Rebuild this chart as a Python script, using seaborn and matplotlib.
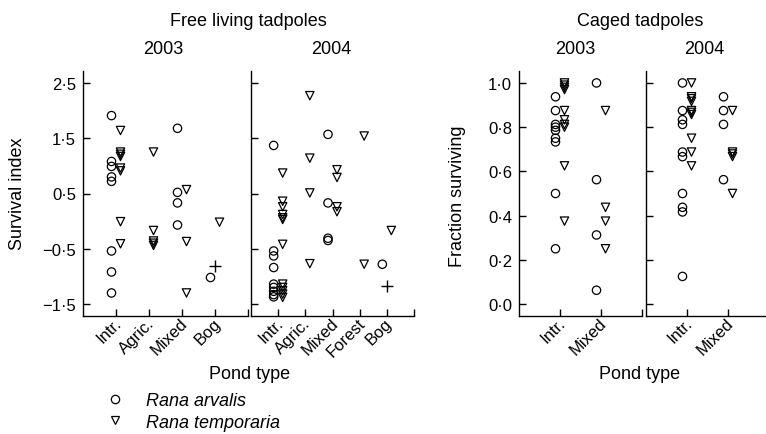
import numpy as np
import pandas as pd
import matplotlib
matplotlib.use("Agg")
import matplotlib.pyplot as plt
import matplotlib.transforms as mtrans
from matplotlib.lines import Line2D
import seaborn as sns

# ---------------- data ----------------
free03_cats = ["Intr.", "Agric.", "Mixed", "Bog"]
free04_cats = ["Intr.", "Agric.", "Mixed", "Forest", "Bog"]
caged_cats = ["Intr.", "Mixed"]

free03_arvalis = {
    "Intr.": [1.91, 1.08, 0.99, 0.80, 0.72, -0.54, -0.92, -1.30],
    "Mixed": [1.68, 0.52, 0.33, -0.07],
    "Bog": [-1.02],
}
free03_temporaria = {
    "Intr.": [1.64, 1.25, 1.21, 1.17, 0.96, 0.91, -0.01, -0.41],
    "Agric.": [1.25, -0.17, -0.36, -0.40, -0.44],
    "Mixed": [0.57, -0.37, -1.30],
    "Bog": [-0.02],
}
free03_other = {"Bog": [-0.82]}

free04_arvalis = {
    "Intr.": [1.37, -0.54, -0.63, -0.84, -1.14, -1.20, -1.27, -1.33, -1.37],
    "Mixed": [1.57, 0.33, -0.31, -0.35],
    "Bog": [-0.78],
}
free04_temporaria = {
    "Intr.": [0.87, 0.36, 0.26, 0.12, 0.06, 0.03, -0.42, -1.14, -1.20, -1.26, -1.32, -1.38],
    "Agric.": [2.27, 1.14, 0.51, -0.77],
    "Mixed": [0.93, 0.79, 0.26, 0.17],
    "Forest": [1.54, -0.78],
    "Bog": [-0.17],
}
free04_other = {"Bog": [-1.17]}

caged03_arvalis = {
    "Intr.": [0.9375, 0.875, 0.8125, 0.80, 0.7857, 0.75, 0.7333, 0.5, 0.25],
    "Mixed": [1.0, 0.5625, 0.3125, 0.0625],
}
caged03_temporaria = {
    "Intr.": [1.0, 0.99, 0.98, 0.97, 0.875, 0.8333, 0.8125, 0.80, 0.625, 0.375],
    "Mixed": [0.875, 0.4375, 0.375, 0.25],
}
caged04_arvalis = {
    "Intr.": [1.0, 0.875, 0.8333, 0.8125, 0.6875, 0.6667, 0.5, 0.4375, 0.4167, 0.125],
    "Mixed": [0.9375, 0.875, 0.8125, 0.5625],
}
caged04_temporaria = {
    "Intr.": [1.0, 0.9375, 0.9286, 0.9167, 0.875, 0.8667, 0.8571, 0.75, 0.6875, 0.625],
    "Mixed": [0.875, 0.6875, 0.6786, 0.6667, 0.5],
}

free_yticks = [-1.5, -0.5, 0.5, 1.5, 2.5]
free_yticklabels = ["\u22121\u00b75", "\u22120\u00b75", "0\u00b75", "1\u00b75", "2\u00b75"]
caged_yticks = [0.0, 0.2, 0.4, 0.6, 0.8, 1.0]
caged_yticklabels = ["0\u00b70", "0\u00b72", "0\u00b74", "0\u00b76", "0\u00b78", "1\u00b70"]

species_labels = ["Rana arvalis", "Rana temporaria"]

# ---------------- style ----------------
sns.set_style("ticks")
plt.rcParams.update({
    "font.family": ["Liberation Sans", "DejaVu Sans"],
    "text.color": "black",
    "axes.edgecolor": "black",
    "axes.labelcolor": "black",
    "xtick.color": "black",
    "ytick.color": "black",
    "xtick.direction": "in",
    "ytick.direction": "in",
    "axes.linewidth": 1.0,
})

W, H = 766, 435
fig = plt.figure(figsize=(W / 100, H / 100), dpi=100)


def rect(x0, x1, y0=72, y1=317):
    return [x0 / W, 1 - y1 / H, (x1 - x0) / W, (y1 - y0) / H]


def build(cats, arv, tem, oth=None):
    rows = []
    for sp, d in (("arvalis", arv), ("temporaria", tem), ("other", oth or {})):
        for c, vals in d.items():
            for v in vals:
                rows.append((sp, c, v))
    df = pd.DataFrame(rows, columns=["species", "pond", "value"])
    df["pos"] = df["pond"].map({c: i + 1 for i, c in enumerate(cats)}).astype(float)
    return df


def draw(ax, df, cats, nslots, px_width, ylim, yticks, yticklabels, show_ylabels):
    ppu = px_width / nslots
    off = {"arvalis": -4.5 / ppu, "temporaria": 4.5 / ppu, "other": 0.0}
    df = df.assign(x=df["pos"] + df["species"].map(off))
    main = df[df["species"] != "other"]
    sns.scatterplot(data=main, x="x", y="value", style="species",
                    style_order=["arvalis", "temporaria"],
                    markers={"arvalis": "o", "temporaria": "v"},
                    s=36, facecolor="none", edgecolor="black", linewidth=0.9,
                    legend=False, ax=ax)
    oth = df[df["species"] == "other"]
    if len(oth):
        sns.scatterplot(data=oth, x="x", y="value", marker="+", s=75,
                        color="black", linewidth=1.0, legend=False, ax=ax)
    ax.set_xlim(0, nslots)
    ax.set_ylim(*ylim)
    ax.set_xticks(range(1, nslots + 1))
    ax.set_xticklabels(cats + [""] * (nslots - len(cats)))
    ax.set_yticks(yticks)
    if show_ylabels:
        ax.set_yticklabels(yticklabels)
    else:
        ax.set_yticklabels([])
    ax.set_xlabel("")
    ax.set_ylabel("")
    for s in ("top", "right"):
        ax.spines[s].set_visible(False)
    ax.tick_params(axis="both", length=5, width=1.0, labelsize=12, pad=5)
    ax.tick_params(axis="x", pad=3)
    shift = mtrans.ScaledTranslation(3 / 100, 0, fig.dpi_scale_trans)
    for lab in ax.get_xticklabels():
        lab.set_rotation(45)
        lab.set_ha("right")
        lab.set_va("center")
        lab.set_rotation_mode("anchor")
        lab.set_transform(lab.get_transform() + shift)
    ax.patch.set_alpha(0)


free_ylim = (-1.717, 2.717)
caged_ylim = (-0.054, 1.054)

ax1 = fig.add_axes(rect(83, 248))
draw(ax1, build(free03_cats, free03_arvalis, free03_temporaria, free03_other),
     free03_cats, 5, 165, free_ylim, free_yticks, free_yticklabels, True)
ax2 = fig.add_axes(rect(251, 414))
draw(ax2, build(free04_cats, free04_arvalis, free04_temporaria, free04_other),
     free04_cats, 6, 163, free_ylim, free_yticks, free_yticklabels, False)
ax3 = fig.add_axes(rect(519, 642))
draw(ax3, build(caged_cats, caged03_arvalis, caged03_temporaria),
     caged_cats, 3, 123, caged_ylim, caged_yticks, caged_yticklabels, True)
ax4 = fig.add_axes(rect(646, 769))
draw(ax4, build(caged_cats, caged04_arvalis, caged04_temporaria),
     caged_cats, 3, 123, caged_ylim, caged_yticks, caged_yticklabels, False)


def ftext(x, y, s, **kw):
    kw.setdefault("ha", "center")
    kw.setdefault("va", "center")
    kw.setdefault("size", 13)
    fig.text(x / W, 1 - y / H, s, **kw)


ftext(248, 22, "Free living tadpoles")
ftext(163, 50, "2003")
ftext(331, 50, "2004")
ftext(640, 22, "Caged tadpoles")
ftext(575, 50, "2003")
ftext(704, 50, "2004")
ftext(17.5, 194, "Survival index", rotation=90)
ftext(457.5, 196, "Fraction surviving", rotation=90)
ftext(250, 375, "Pond type")
ftext(640, 375, "Pond type")

handles = [
    Line2D([], [], ls="none", marker="o", ms=6, mfc="none", mec="black", mew=0.9),
    Line2D([], [], ls="none", marker="v", ms=6, mfc="none", mec="black", mew=0.9),
]
leg = fig.legend(handles, species_labels, loc="upper left",
                 bbox_to_anchor=(106 / W, 1 - 393 / H), frameon=False,
                 prop={"size": 13, "style": "italic"}, handlelength=1.0,
                 handletextpad=1.2, labelspacing=0.25, borderpad=0, borderaxespad=0)

fig.savefig("out.png", dpi=100)
